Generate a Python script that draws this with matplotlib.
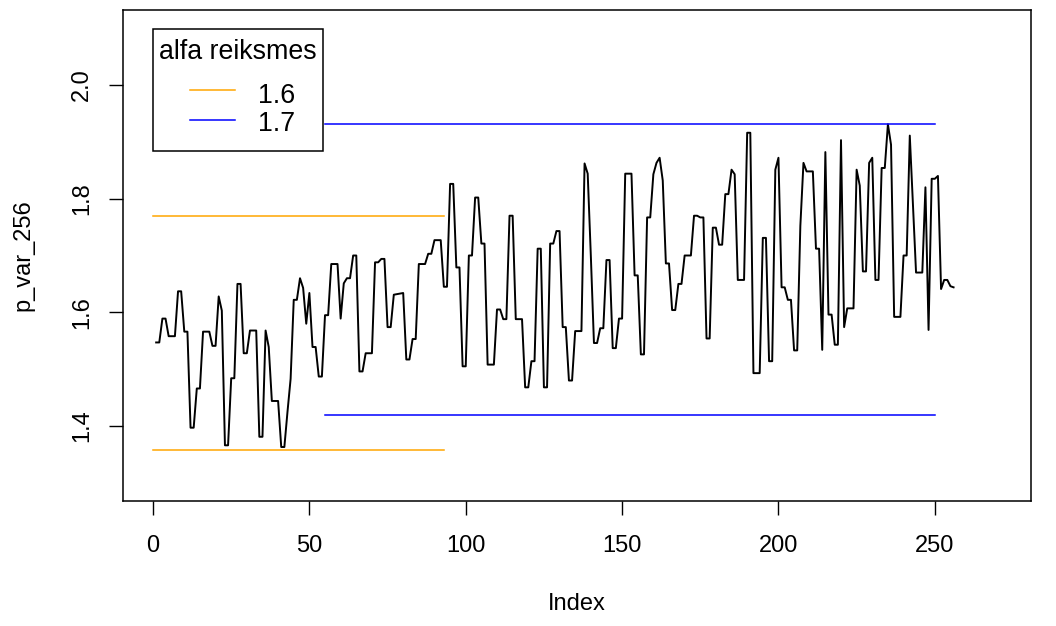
import matplotlib.pyplot as plt
from matplotlib.patches import Rectangle
import numpy as np

plt.rcParams['font.family'] = ['Liberation Sans', 'DejaVu Sans']

p_var_256 = [
    1.547, 1.547, 1.589, 1.589, 1.558, 1.558, 1.558, 1.637, 1.637, 1.566,
    1.566, 1.397, 1.397, 1.466, 1.466, 1.566, 1.566, 1.566, 1.541, 1.541,
    1.628, 1.603, 1.366, 1.366, 1.484, 1.484, 1.650, 1.650, 1.528, 1.528,
    1.568, 1.568, 1.568, 1.381, 1.381, 1.568, 1.539, 1.444, 1.444, 1.444,
    1.363, 1.363, 1.425, 1.483, 1.622, 1.622, 1.660, 1.643, 1.580, 1.634,
    1.539, 1.539, 1.487, 1.487, 1.595, 1.595, 1.685, 1.685, 1.685, 1.589,
    1.651,
    1.660, 1.660, 1.700, 1.700, 1.496, 1.496, 1.528, 1.528, 1.528, 1.688,
    1.688, 1.694, 1.694, 1.574, 1.574, 1.631, 1.632, 1.633, 1.634, 1.517,
    1.517, 1.553, 1.553, 1.685, 1.685, 1.685, 1.703, 1.703, 1.727, 1.727,
    1.727, 1.645, 1.645, 1.826, 1.826, 1.679, 1.679, 1.505, 1.505, 1.700,
    1.700, 1.802, 1.802, 1.721, 1.721, 1.508, 1.508, 1.508, 1.605, 1.605,
    1.588, 1.588, 1.770, 1.770, 1.588, 1.588, 1.588, 1.468, 1.468, 1.514,
    1.514, 1.712, 1.712, 1.468, 1.468, 1.721, 1.721, 1.743, 1.743, 1.574,
    1.574, 1.480, 1.480, 1.567, 1.567, 1.567, 1.862, 1.844, 1.700, 1.546,
    1.546, 1.572, 1.572, 1.692, 1.692, 1.537, 1.537, 1.589, 1.589,
    1.844, 1.844, 1.844, 1.665, 1.665, 1.526, 1.526, 1.767, 1.767, 1.843,
    1.863, 1.872, 1.832, 1.686, 1.686, 1.604, 1.604, 1.650, 1.650, 1.700,
    1.700, 1.700, 1.770, 1.770, 1.767, 1.767, 1.554, 1.554, 1.749, 1.749,
    1.719,
    1.719, 1.808, 1.808, 1.851, 1.843, 1.657, 1.657, 1.657, 1.916, 1.916,
    1.493, 1.493, 1.493, 1.731, 1.731, 1.514, 1.514, 1.851, 1.872, 1.644,
    1.644, 1.622, 1.622, 1.533, 1.533, 1.752, 1.863, 1.848, 1.848,
    1.848, 1.712, 1.712, 1.534, 1.882, 1.596, 1.596, 1.543, 1.543, 1.903,
    1.574, 1.607, 1.607, 1.607, 1.851, 1.823, 1.672, 1.672, 1.863, 1.872,
    1.657, 1.657, 1.854, 1.854, 1.931, 1.895, 1.592, 1.592, 1.592, 1.700,
    1.700, 1.911,
    1.790, 1.670, 1.670, 1.670, 1.820, 1.569, 1.835, 1.835, 1.840, 1.641,
    1.657, 1.657, 1.646, 1.644,
]

# alfa bands: [lower, upper] and x range for each
alfa_labels = ['1.6', '1.7']
alfa_colors = ['orange', 'blue']
alfa_low = [1.357, 1.4195]
alfa_high = [1.769, 1.932]
alfa_from = [0, 55]
alfa_to = [93, 250]

W, H = 1056, 626
idx = np.arange(1, len(p_var_256) + 1)

fig = plt.figure(figsize=(W / 100, H / 100), dpi=100)
ax = fig.add_axes([122.5/W, 1 - 501/H, (1031 - 122.5)/W, (501 - 10)/H])

ax.plot(idx, p_var_256, color='black', lw=1.4)

for lab, col, lo, hi, a, b in zip(alfa_labels, alfa_colors, alfa_low, alfa_high, alfa_from, alfa_to):
    ax.plot([a, b], [hi, hi], color=col, lw=1.1)
    ax.plot([a, b], [lo, lo], color=col, lw=1.1)

# xlim = c(1, 270) with R's 4% padding
ax.set_xlim(1 - 0.04 * 269, 270 + 0.04 * 269)
ax.set_ylim(1.3 - 0.032, 2.1 + 0.032)
ax.set_xticks([0, 50, 100, 150, 200, 250])
ax.set_yticks([1.4, 1.6, 1.8, 2.0])
ax.set_yticklabels(['1.4', '1.6', '1.8', '2.0'], rotation=90, va='center')
ax.tick_params(direction='out', length=10.4, width=1, labelsize=17, color='black')
ax.tick_params(axis='x', pad=14)
ax.tick_params(axis='y', pad=11)
for s in ax.spines.values():
    s.set_linewidth(1.1)

ax.set_xlabel('Index', fontsize=17)
ax.set_ylabel('p_var_256', fontsize=17)
ax.xaxis.set_label_coords(0.5, -0.187)
ax.yaxis.set_label_coords(-0.097, 0.5)


# legend box drawn in figure pixels, R style
def fx(px):
    return px / W


def fy(py):
    return 1 - py / H


fig.patches.append(Rectangle((fx(153), fy(151)), fx(323) - fx(153), fy(29) - fy(151),
                             transform=fig.transFigure, fill=True, facecolor='white',
                             edgecolor='black', lw=1.1, zorder=5))
fig.text(fx(238), fy(52), 'alfa reiksmes', ha='center', va='center', fontsize=19.3, zorder=6)
for lab, col, ly, ty in zip(alfa_labels, alfa_colors, [89.5, 120], [96, 124]):
    fig.lines.append(plt.Line2D([fx(190), fx(235)], [fy(ly), fy(ly)], color=col, lw=1.1,
                                transform=fig.transFigure, zorder=6))
    fig.text(fx(258), fy(ty), lab, ha='left', va='center', fontsize=19.3, zorder=6)

fig.savefig('out.png', dpi=100)
